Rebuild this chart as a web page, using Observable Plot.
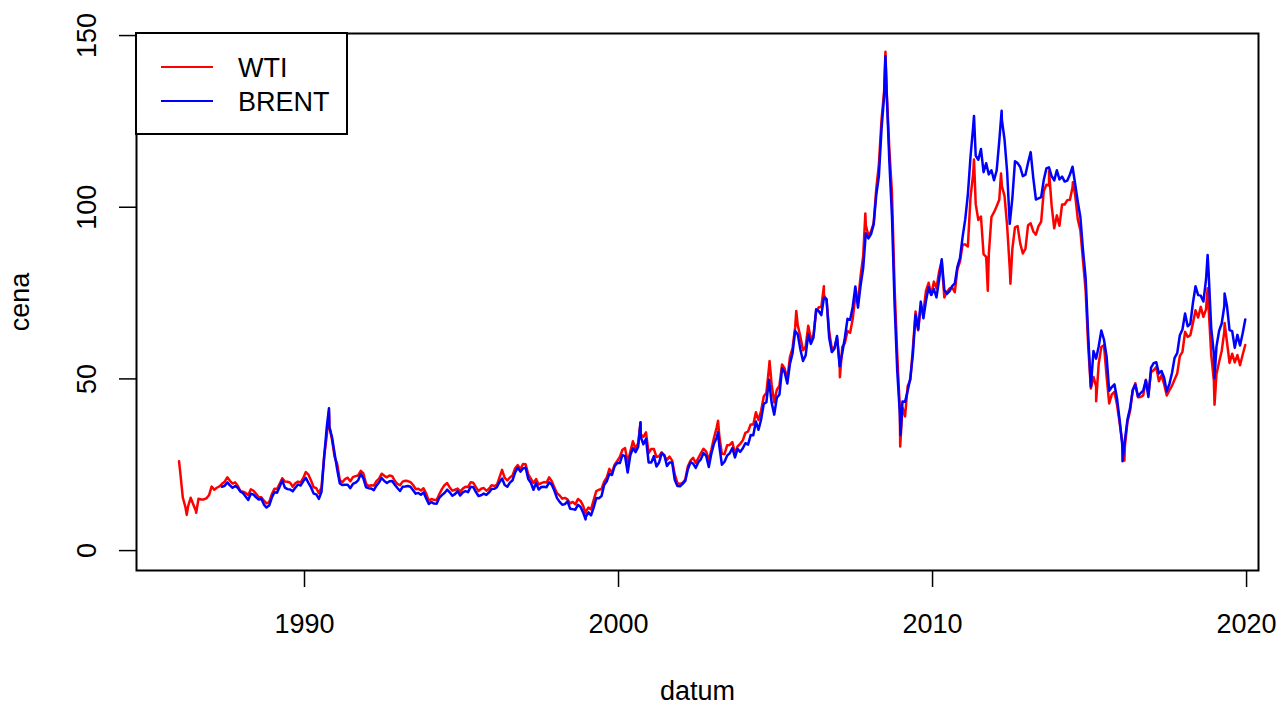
<!DOCTYPE html>
<html><head><meta charset="utf-8">
<script src="https://cdn.jsdelivr.net/npm/d3@7"></script>
<script src="https://cdn.jsdelivr.net/npm/@observablehq/plot@0.6"></script>
<style>body{margin:0;background:#fff;}</style>
</head><body><div id="chart"></div>
<script>
// Series names / colours
const seriesNames = ["WTI", "BRENT"];
const seriesColors = ["#ff0000", "#0000ff"];
const xTicks = [1990, 2000, 2010, 2020];
const yTicks = [0, 50, 100, 150];
const xLabel = "datum";
const yLabel = "cena";

// WTI monthly (Jan 1986 .. Dec 2019), USD/barrel
const wtiStartYear = 1986, wtiStartMonth = 1;
const wtiValues = [
22.93,15.46,12.61,12.84,15.38,13.43,11.59,15.10,14.87,14.90,15.22,16.11,
18.65,17.75,18.30,18.68,19.44,20.07,21.34,20.31,19.53,19.86,18.85,17.28,
17.13,16.80,16.20,17.86,17.42,16.53,15.50,15.52,14.54,13.77,14.14,16.38,
18.02,17.94,19.48,21.07,20.12,20.05,19.78,18.58,19.59,20.10,19.86,21.10,
22.86,22.11,20.39,18.43,18.20,16.70,18.45,27.31,33.51,36.04,32.33,27.28,
25.23,20.48,19.90,20.83,21.23,20.19,21.40,21.69,21.89,23.23,22.46,19.50,
18.79,19.01,18.92,20.23,20.98,22.39,21.78,21.34,21.88,21.69,20.34,19.41,
19.03,20.09,20.32,20.25,19.95,19.09,17.89,18.01,17.50,18.15,16.61,14.52,
15.03,14.78,14.68,16.42,17.89,19.06,19.66,18.38,17.45,17.72,18.07,17.16,
18.04,18.57,18.54,19.90,19.74,18.45,17.33,18.02,18.23,17.43,17.99,19.03,
18.85,19.09,21.33,23.50,21.17,20.42,21.30,21.90,23.97,24.88,23.71,25.23,
25.13,22.18,20.97,19.70,20.82,19.26,19.66,19.95,19.80,21.33,20.19,18.33,
16.72,16.06,15.12,15.35,14.91,13.72,14.17,13.47,15.03,14.46,13.00,11.35,
12.52,12.01,14.68,17.31,17.72,17.92,20.10,21.28,23.80,22.69,25.00,26.10,
27.26,29.37,29.84,25.72,28.79,31.82,29.70,31.26,33.88,33.11,34.42,28.44,
29.59,29.61,27.25,27.49,28.63,27.60,26.43,27.37,26.20,22.17,19.64,19.39,
19.72,20.72,24.53,26.18,27.04,25.52,26.97,28.39,29.66,28.84,26.35,29.46,
32.95,35.83,33.51,28.17,28.11,30.66,30.76,31.57,28.31,30.34,31.11,32.13,
34.31,34.69,36.74,36.75,40.28,38.03,40.78,44.90,45.94,53.28,48.47,43.15,
46.84,48.15,54.19,52.98,49.83,56.35,59.00,64.99,65.59,62.26,58.32,59.41,
65.49,61.63,62.69,69.44,70.84,70.95,74.41,73.04,63.80,58.89,59.08,61.96,
54.51,59.28,60.44,63.98,63.46,67.49,74.12,72.36,79.92,85.80,94.77,91.69,
92.97,95.39,105.45,112.58,125.40,133.88,133.37,116.67,104.11,76.61,57.31,41.12,
41.71,39.09,47.94,49.65,59.03,69.64,64.15,71.05,69.41,75.72,77.99,74.47,
78.33,76.39,81.20,84.29,73.74,75.34,76.32,76.60,75.24,81.89,84.25,89.15,
89.17,88.58,102.86,109.53,100.90,96.26,97.30,86.33,85.52,86.32,97.16,98.56,
100.27,102.20,106.16,103.32,94.66,82.30,87.90,94.13,94.51,89.49,86.53,87.86,
94.76,95.31,92.94,92.02,94.51,95.77,104.67,106.57,106.29,100.54,93.86,97.63,
94.62,100.82,100.80,102.07,102.18,105.79,103.59,96.54,93.21,84.40,75.79,59.29,
47.22,50.58,47.82,54.45,59.27,59.82,50.90,42.87,45.48,46.22,42.44,37.19,
31.68,30.32,37.55,40.75,46.71,48.76,44.65,44.72,45.18,49.78,45.66,51.97,
52.50,53.47,49.33,51.06,48.48,45.18,46.63,48.04,49.82,51.58,56.64,57.88,
63.70,62.23,62.73,66.25,69.98,67.87,70.98,68.06,70.23,70.75,56.96,49.52,
51.38,54.95,58.15,63.86,60.83,54.66,57.35,54.81,56.95,53.96,57.03,59.88
];
// WTI daily extremes (decimal year, value)
const wtiPeakDates  = [1986.005,1986.25,1986.55,1990.78,1998.95,2000.70,2003.17,2004.81,2005.66,2006.54,2007.05,2007.86,2008.50,2008.97,2011.32,2011.76,2012.18,2012.48,2013.71,2014.47,2015.21,2016.11,2018.76,2018.98,2019.30];
const wtiPeakValues = [26.0,10.4,11.0,40.4,10.8,37.2,37.8,55.2,69.8,77.0,50.5,98.2,145.3,30.3,113.9,75.7,109.8,77.7,110.5,107.3,43.5,26.2,76.4,42.5,66.3];

// BRENT monthly (May 1987 .. Dec 2019)
const brentStartYear = 1987, brentStartMonth = 5;
const brentValues = [
18.58,18.86,19.86,18.98,18.31,18.76,18.32,17.21,
16.75,15.73,14.73,16.60,16.31,15.49,14.85,15.08,13.39,12.53,13.10,15.37,
17.03,16.87,18.57,20.45,18.34,17.90,17.80,17.26,18.31,19.26,18.95,20.16,
21.17,19.74,18.39,16.60,16.37,15.07,17.09,27.17,35.92,36.02,33.07,28.27,
23.57,19.54,19.08,19.18,19.19,18.17,19.40,19.77,20.45,22.30,21.04,18.44,
18.18,18.06,17.62,18.92,19.89,21.16,20.25,19.70,20.21,20.29,19.19,18.22,
17.35,18.56,18.67,18.83,18.60,17.57,16.58,16.80,16.26,16.97,15.20,13.57,
14.12,13.68,13.67,15.37,16.15,16.79,17.74,16.96,15.98,16.44,17.32,16.03,
16.95,17.31,17.02,18.62,18.44,17.05,15.90,16.11,16.59,16.20,16.94,17.97,
17.99,18.46,19.93,21.01,19.08,18.58,19.78,20.49,22.78,24.18,23.00,23.94,
24.10,20.84,19.74,17.72,19.64,17.77,18.52,18.60,18.46,19.88,19.18,17.40,
15.29,14.18,13.34,13.53,14.38,12.21,12.08,11.91,13.34,12.71,11.04,9.82,
11.12,10.27,12.51,15.29,15.23,15.86,19.08,20.17,22.38,22.01,24.56,25.52,
25.50,27.79,27.49,22.76,27.74,29.80,28.68,30.20,33.14,30.96,32.55,25.66,
25.62,27.50,24.50,25.66,28.31,27.85,24.61,25.68,25.62,20.54,18.80,18.71,
19.42,20.28,23.70,25.73,25.35,24.08,25.74,26.65,28.40,27.54,24.34,28.33,
31.18,32.77,30.61,25.00,25.86,27.65,28.35,29.89,27.11,29.61,28.75,29.81,
31.28,30.86,33.63,33.59,37.57,35.18,38.22,42.74,43.20,49.78,43.11,39.60,
44.51,45.48,53.10,51.88,48.65,54.35,57.52,63.98,62.91,58.54,55.24,56.86,
62.99,60.21,62.06,70.26,69.78,68.56,73.67,73.23,61.96,57.81,58.76,62.47,
53.68,57.56,62.05,67.49,67.21,71.05,76.93,70.76,77.17,82.34,92.41,90.93,
92.18,94.99,103.64,109.07,122.80,132.32,132.72,113.24,97.23,71.58,52.45,39.95,
43.44,43.32,46.54,50.18,57.30,68.61,64.44,72.51,67.65,72.77,76.66,74.46,
76.17,73.75,78.83,84.82,75.95,74.76,75.58,77.04,77.84,82.67,85.28,91.45,
96.52,103.72,114.64,123.26,114.99,113.83,116.97,110.22,112.83,109.55,110.77,107.87,
110.69,119.33,125.45,119.75,110.34,95.16,102.62,113.36,112.86,111.71,109.06,109.49,
112.96,116.05,108.47,102.25,102.56,102.92,107.93,111.28,111.60,109.08,107.79,110.76,
108.12,108.90,107.48,107.76,109.54,111.80,106.77,101.61,97.09,87.43,79.44,62.34,
47.76,58.10,55.89,59.52,64.08,61.48,56.56,46.52,47.62,48.43,44.27,38.01,
30.70,32.18,38.21,41.58,46.74,48.25,44.95,45.84,46.57,49.52,44.73,53.31,
54.58,54.87,51.59,52.31,50.33,46.37,48.48,51.70,56.15,57.51,62.71,64.37,
69.08,65.32,66.02,72.11,76.98,74.41,74.25,72.53,78.89,81.03,64.75,57.36,
59.41,63.96,66.14,71.23,71.32,64.22,63.92,59.04,62.83,59.71,63.21,67.31
];
const brentPeakDates  = [1990.78,1998.95,2000.70,2003.17,2008.50,2008.98,2011.32,2012.20,2016.05,2018.76,2018.98,2019.30];
const brentPeakValues = [41.45,9.1,37.4,34.5,143.95,33.7,126.6,128.1,26.0,86.1,50.2,74.9];

function buildRows(startYear, startMonth, values, peakDates, peakValues) {
  const rows = values.map((v, i) => ({date: startYear + (startMonth - 1 + i + 0.5) / 12, value: v}));
  peakDates.forEach((d, i) => rows.push({date: d, value: peakValues[i]}));
  return rows.sort((a, b) => a.date - b.date);
}
const wtiRows = buildRows(wtiStartYear, wtiStartMonth, wtiValues, wtiPeakDates, wtiPeakValues);
const brentRows = buildRows(brentStartYear, brentStartMonth, brentValues, brentPeakDates, brentPeakValues);

const plot = Plot.plot({
  width: 1286, height: 704,
  marginLeft: 136, marginRight: 28, marginTop: 33, marginBottom: 134,
  style: {fontFamily: "'Liberation Sans', Arial, Helvetica, sans-serif", fontSize: "27px", background: "white", color: "black"},
  x: {type: "linear", domain: [1984.65, 2020.38]},
  y: {domain: [-5.8, 150.6]},
  marks: [
    Plot.line(wtiRows, {x: "date", y: "value", stroke: seriesColors[0], strokeWidth: 2.5}),
    Plot.line(brentRows, {x: "date", y: "value", stroke: seriesColors[1], strokeWidth: 2.5}),
    Plot.frame({stroke: "black", strokeWidth: 2}),
    Plot.axisX({ticks: xTicks, tickSize: 17, tickPadding: 26, tickFormat: d => String(d), label: null, strokeWidth: 1.5}),
    Plot.axisY({ticks: yTicks, tickSize: 17, tickFormat: () => "", label: null, strokeWidth: 1.5}),
    Plot.text(yTicks, {y: d => d, text: d => String(d), frameAnchor: "left", rotate: -90, dx: -41, lineAnchor: "bottom", textAnchor: "middle"}),
    Plot.text([yLabel], {text: d => d, frameAnchor: "left", rotate: -90, dx: -108, lineAnchor: "bottom", textAnchor: "middle"}),
    Plot.text([xLabel], {text: d => d, frameAnchor: "bottom", dy: 129, lineAnchor: "bottom"})
  ]
});

// Legend (top-left, inside the box)
const svg = d3.select(plot);
const lg = svg.append("g").attr("text-anchor", "start");
lg.append("rect").attr("x", 136).attr("y", 33).attr("width", 211).attr("height", 101)
  .attr("fill", "white").attr("stroke", "black").attr("stroke-width", 2);
seriesNames.forEach((name, i) => {
  const cy = 67 + i * 34;
  lg.append("line").attr("x1", 161).attr("x2", 213).attr("y1", cy).attr("y2", cy)
    .attr("stroke", seriesColors[i]).attr("stroke-width", 2);
  lg.append("text").attr("x", 238).attr("y", cy + 10).attr("fill", "black")
    .attr("text-anchor", "start").text(name);
});

document.getElementById("chart").appendChild(plot);
</script>
</body></html>
